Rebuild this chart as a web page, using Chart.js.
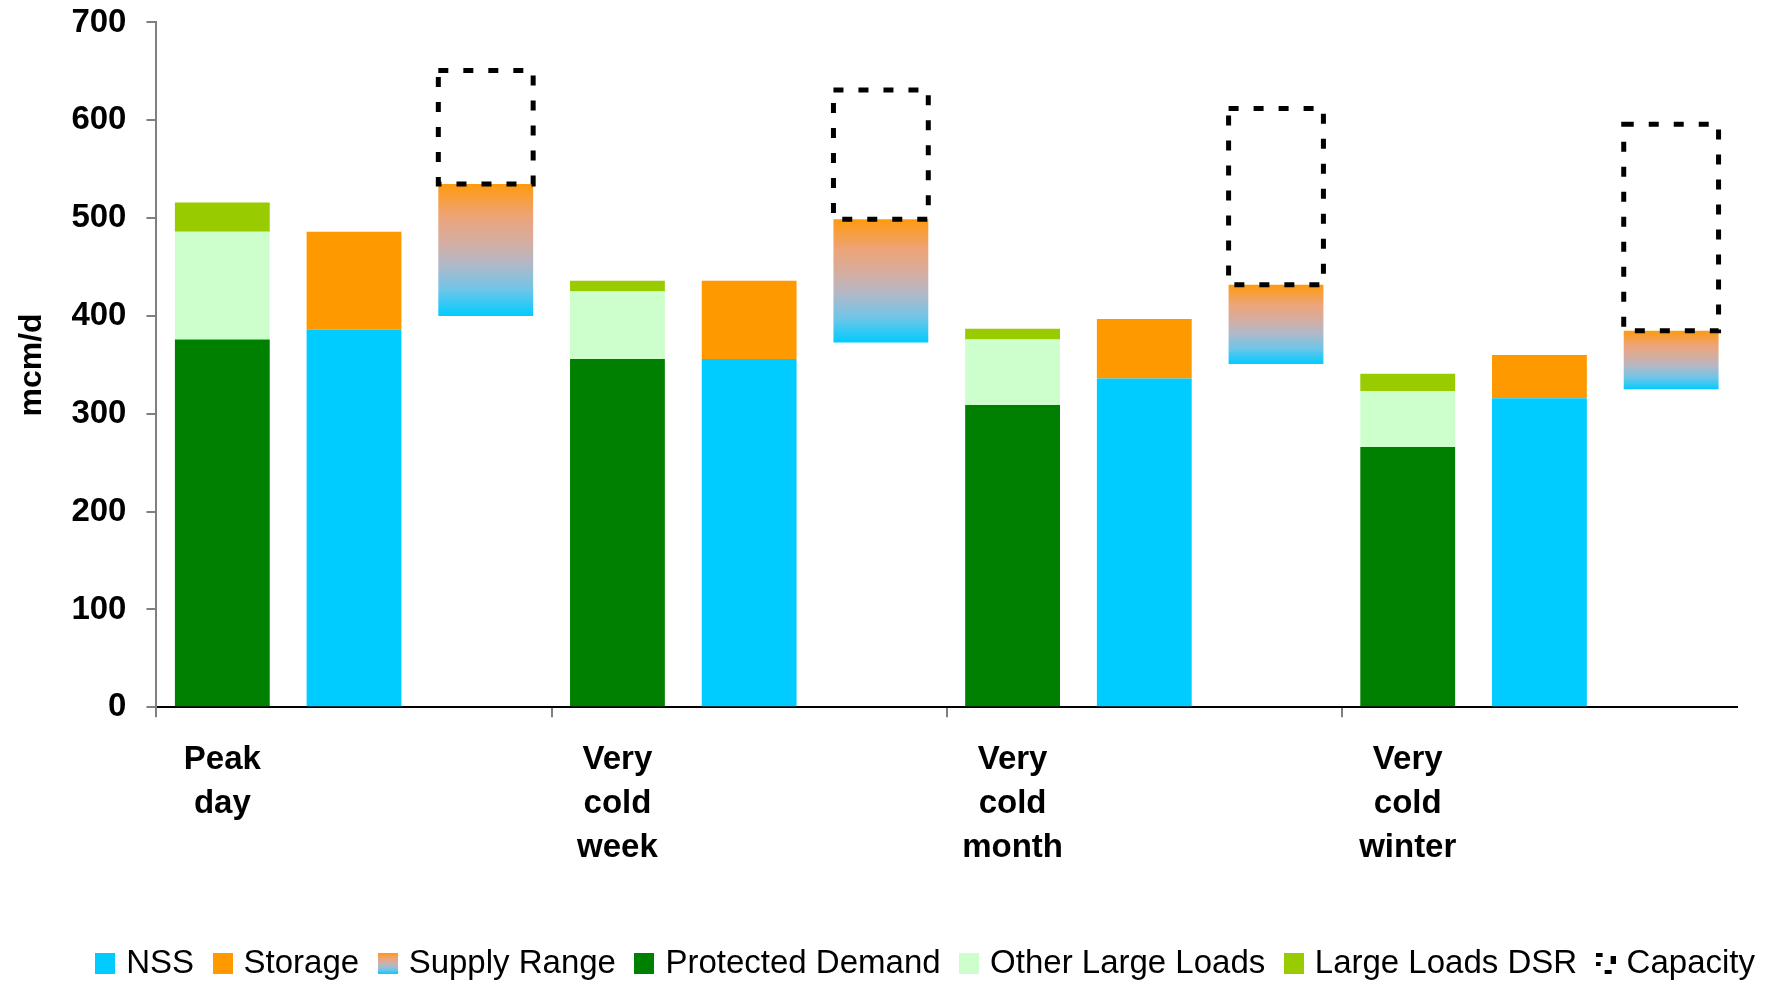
<!DOCTYPE html>
<html>
<head>
<meta charset="utf-8">
<script src="https://cdn.jsdelivr.net/npm/chart.js@4"></script>
<style>
  html, body { margin: 0; padding: 0; background: #fff; }
  #wrap { width: 1769px; height: 984px; }
</style>
</head>
<body>
<div id="wrap"><canvas id="chart"></canvas></div>
<script>
// values (mcm/d)
var categories = [['Peak', 'day'], ['Very', 'cold', 'week'], ['Very', 'cold', 'month'], ['Very', 'cold', 'winter']];
var protectedDemand = [376, 356, 309, 266];
var otherLargeLoads = [110, 69, 67, 57];
var largeLoadsDSR = [30, 11, 11, 18];
var nss = [386, 356, 336, 316];
var storage = [100, 80, 61, 44];
var supplyLow = [400, 373, 351, 325];
var supplyHigh = [535, 499, 432, 385];
var capacityHigh = [651, 631, 612, 596];
var yTicks = [0, 100, 200, 300, 400, 500, 600, 700];

var FONT = "'Liberation Sans', Arial, sans-serif";
var gradStops = [[0, '#FF9A0E'], [0.25, '#EDA479'], [0.45, '#D3AEA2'], [0.6, '#B4B8C6'], [0.8, '#70C5E8'], [1, '#00CCFF']];

// every group has three slots: demand, supply, range/capacity
var labels = [];
categories.forEach(function (c) { labels.push(c, '', ''); });

function slot(arr, pos) {
  var out = [];
  arr.forEach(function (v) {
    for (var k = 0; k < 3; k++) out.push(k === pos ? v : null);
  });
  return out;
}
function slotRange(lo, hi, pos) {
  var out = [];
  lo.forEach(function (v, i) {
    for (var k = 0; k < 3; k++) out.push(k === pos ? [v, hi[i]] : null);
  });
  return out;
}

function rangeFill(c) {
  var chart = c.chart;
  if (!chart.chartArea || !c.raw) return '#FF9900';
  var y = chart.scales.y;
  var top = y.getPixelForValue(c.raw[1]);
  var bot = y.getPixelForValue(c.raw[0]);
  var g = chart.ctx.createLinearGradient(0, top, 0, bot);
  gradStops.forEach(function (s) { g.addColorStop(s[0], s[1]); });
  return g;
}

// legend icons
function icon(draw) {
  var cv = document.createElement('canvas');
  cv.width = 20; cv.height = 21;
  draw(cv.getContext('2d'));
  return cv;
}
function solidIcon(col) {
  return icon(function (x) { x.fillStyle = col; x.fillRect(0, 0, 20, 21); });
}
var rangeIcon = icon(function (x) {
  var g = x.createLinearGradient(0, 0, 0, 21);
  gradStops.forEach(function (s) { g.addColorStop(s[0], s[1]); });
  x.fillStyle = g; x.fillRect(0, 0, 20, 21);
});
var capIcon = icon(function (x) {
  x.fillStyle = '#000';
  x.fillRect(0, 0, 7, 4);
  x.fillRect(15, 3, 5, 8);
  x.fillRect(0, 9, 5, 4);
  x.fillRect(9, 17, 7, 4);
});

var datasets = [
  { label: 'NSS', data: slot(nss, 1), backgroundColor: '#00CCFF', stack: 's' },
  { label: 'Storage', data: slot(storage, 1), backgroundColor: '#FF9900', stack: 's' },
  { label: 'Supply Range', data: slotRange(supplyLow, supplyHigh, 2), backgroundColor: rangeFill, stack: 'r' },
  { label: 'Protected Demand', data: slot(protectedDemand, 0), backgroundColor: '#008000', stack: 'd' },
  { label: 'Other Large Loads', data: slot(otherLargeLoads, 0), backgroundColor: '#CCFFCC', stack: 'd' },
  { label: 'Large Loads DSR', data: slot(largeLoadsDSR, 0), backgroundColor: '#99CC00', stack: 'd' },
  { label: 'Capacity', data: slotRange(supplyHigh, capacityHigh, 2), backgroundColor: 'rgba(0,0,0,0)', stack: 'c' }
];
var icons = [solidIcon('#00CCFF'), solidIcon('#FF9900'), rangeIcon, solidIcon('#008000'), solidIcon('#CCFFCC'), solidIcon('#99CC00'), capIcon];
var CAP = 6;

var dashedBoxes = {
  id: 'dashedBoxes',
  afterDatasetsDraw: function (chart) {
    var meta = chart.getDatasetMeta(CAP);
    var ctx = chart.ctx;
    ctx.save();
    ctx.strokeStyle = '#000';
    ctx.lineWidth = 5;
    ctx.setLineDash([10, 15]);
    meta.data.forEach(function (el, i) {
      if (chart.data.datasets[CAP].data[i] == null) return;
      var p = el.getProps(['x', 'y', 'base', 'width'], true);
      ctx.strokeRect(p.x - p.width / 2, p.y, p.width, p.base - p.y);
    });
    ctx.restore();
  }
};

Chart.defaults.font.family = FONT;
Chart.defaults.color = '#000';

new Chart(document.getElementById('chart'), {
  type: 'bar',
  data: { labels: labels, datasets: datasets },
  plugins: [dashedBoxes],
  options: {
    responsive: true,
    maintainAspectRatio: false,
    animation: false,
    layout: { padding: { left: 10, right: -10, top: 0, bottom: -6 } },
    datasets: { bar: { grouped: false, categoryPercentage: 1, barPercentage: 0.72, borderWidth: 0 } },
    plugins: {
      tooltip: { enabled: false },
      legend: {
        position: 'bottom',
        align: 'end',
        labels: {
          usePointStyle: true,
          pointStyleWidth: 9,
          padding: 24,
          font: { size: 33, family: FONT },
          color: '#000',
          generateLabels: function (chart) {
            return chart.data.datasets.map(function (ds, i) {
              return { text: ds.label, pointStyle: icons[i], datasetIndex: i, hidden: false,
                       lineWidth: 0, fillStyle: 'rgba(0,0,0,0)', strokeStyle: 'rgba(0,0,0,0)', fontColor: '#000' };
            });
          }
        }
      }
    },
    scales: {
      x: {
        stacked: true,
        grid: {
          offset: true,
          drawOnChartArea: false,
          tickLength: 10,
          lineWidth: 2,
          color: function (c) { return c.index % 3 === 0 ? '#808080' : 'rgba(0,0,0,0)'; }
        },
        border: { color: '#000', width: 2 },
        ticks: {
          autoSkip: false,
          maxRotation: 0,
          padding: 21,
          font: { size: 33, weight: 'bold', lineHeight: 1.33 },
          color: '#000'
        },
        afterFit: function (s) { s.height += 32; }
      },
      y: {
        stacked: true,
        min: 0,
        max: 700,
        afterBuildTicks: function (s) { s.ticks = yTicks.map(function (v) { return { value: v }; }); },
        grid: { drawOnChartArea: false, tickLength: 10, lineWidth: 2, color: '#808080' },
        border: { color: '#808080', width: 2 },
        ticks: { padding: 20, font: { size: 33, weight: 'bold', lineHeight: 0.15 }, color: '#000' },
        title: { display: true, text: 'mcm/d', font: { size: 32, weight: 'bold' }, color: '#000', padding: { top: 3, bottom: 0 } }
      },
      y2: {
        position: 'right',
        display: true,
        grid: { display: false, drawTicks: false },
        border: { display: false },
        ticks: { display: false },
        afterFit: function (s) { s.width = 42; }
      }
    }
  }
});
</script>
</body>
</html>
